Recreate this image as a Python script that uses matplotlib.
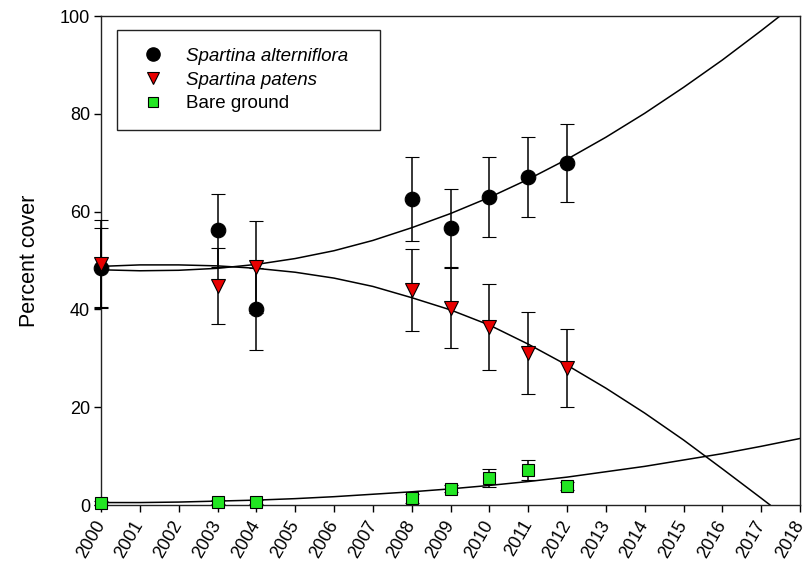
import matplotlib
matplotlib.use("Agg")
import matplotlib.pyplot as plt
from matplotlib.lines import Line2D

plt.rcParams['font.family'] = ['Liberation Sans', 'DejaVu Sans']

# ---- data ----
years = [2000, 2003, 2004, 2008, 2009, 2010, 2011, 2012]
alt_mean = [48.5, 56.2, 40.0, 62.5, 56.6, 63.0, 67.1, 69.9]
alt_err = [8.1, 7.5, 8.4, 8.6, 8.0, 8.2, 8.2, 8.0]
pat_mean = [49.2, 44.8, 48.7, 44.0, 40.3, 36.4, 31.1, 28.0]
pat_err = [9.0, 7.8, 9.4, 8.4, 8.2, 8.8, 8.4, 7.9]
bare_mean = [0.5, 0.6, 0.6, 1.4, 3.3, 5.5, 7.2, 3.9]
bare_err = [0.4, 0.4, 0.4, 0.9, 0.7, 1.8, 2.1, 0.8]

# fitted trend curves
alt_fit_years = [2000, 2001, 2002, 2003, 2004, 2005, 2006, 2007, 2008, 2009,
                 2010, 2011, 2012, 2013, 2014, 2015, 2016, 2017, 2017.5]
alt_fit = [48.1, 47.9, 48.0, 48.4, 49.2, 50.4, 52.0, 54.1, 56.7, 59.6,
           62.9, 66.6, 70.7, 75.2, 80.1, 85.4, 91.0, 97.0, 100.1]
pat_fit_years = [2000, 2001, 2002, 2003, 2004, 2005, 2006, 2007, 2008, 2009,
                 2010, 2011, 2012, 2013, 2014, 2015, 2016, 2017, 2017.23]
pat_fit = [48.8, 49.1, 49.1, 48.9, 48.4, 47.6, 46.4, 44.7, 42.4, 39.9,
           36.8, 32.9, 28.6, 23.9, 18.8, 13.3, 7.4, 1.4, 0.0]
bare_fit_years = [2000, 2001, 2002, 2003, 2004, 2005, 2006, 2007, 2008, 2009,
                  2010, 2011, 2012, 2013, 2014, 2015, 2016, 2017, 2018]
bare_fit = [0.5, 0.5, 0.6, 0.8, 1.0, 1.3, 1.7, 2.2, 2.7, 3.3,
            4.0, 4.8, 5.7, 6.8, 7.9, 9.2, 10.5, 12.0, 13.6]

x_ticks = list(range(2000, 2019))
y_ticks = [0, 20, 40, 60, 80, 100]
labels = ["Spartina alterniflora", "Spartina patens", "Bare ground"]

RED = '#E80000'
GREEN = '#22E622'

fig = plt.figure(figsize=(8.09, 5.64), dpi=100)
ax = fig.add_axes([101 / 809, 1 - 505 / 564, 699 / 809, 489 / 564])

ax.plot(alt_fit_years, alt_fit, color='black', lw=1.1, zorder=2)
ax.plot(pat_fit_years, pat_fit, color='black', lw=1.1, zorder=2)
ax.plot(bare_fit_years, bare_fit, color='black', lw=1.1, zorder=2)

ekw = dict(ecolor='black', elinewidth=1.1, capsize=5.0, capthick=1.1,
           linestyle='none', markeredgecolor='black', markeredgewidth=0.8,
           clip_on=False, zorder=3)
ax.errorbar(years, alt_mean, yerr=alt_err, fmt='o', color='black',
            markersize=10.5, **ekw)
ax.errorbar(years, pat_mean, yerr=pat_err, fmt='v', color=RED,
            markerfacecolor=RED, markersize=9.5, **ekw)
ax.errorbar(years, bare_mean, yerr=bare_err, fmt='s', color=GREEN,
            markerfacecolor=GREEN, markersize=8, **ekw)

ax.set_xlim(2000, 2018)
ax.set_ylim(0, 100)
ax.set_xticks(x_ticks)
ax.set_xticklabels([str(v) for v in x_ticks], rotation=60, ha='right',
                   va='center', rotation_mode='anchor', fontsize=13)
ax.set_yticks(y_ticks)
ax.set_yticklabels([str(v) for v in y_ticks], fontsize=13)
ax.tick_params(axis='both', direction='out', length=5, width=1.0,
               colors='black')
ax.tick_params(axis='x', pad=7)
ax.tick_params(axis='y', pad=3)
for s in ax.spines.values():
    s.set_linewidth(1.0)
    s.set_color('#222222')

ax.set_ylabel("Percent cover", fontsize=15.5, labelpad=14)

handles = [
    Line2D([], [], marker='o', linestyle='none', color='black',
           markeredgecolor='black', markersize=9.5),
    Line2D([], [], marker='v', linestyle='none', color=RED,
           markeredgecolor='black', markeredgewidth=0.8, markersize=9),
    Line2D([], [], marker='s', linestyle='none', color=GREEN,
           markeredgecolor='black', markeredgewidth=0.8, markersize=7),
]
x0 = (117 - 101) / 699
w = (380 - 117) / 699
ytop = (505 - 30) / 489
leg = ax.legend(handles, labels, loc='upper left',
                bbox_to_anchor=(x0, ytop - 0.3, w, 0.3), mode='expand',
                fontsize=13.5, frameon=True, fancybox=False,
                edgecolor='#222222', framealpha=1, borderpad=0.95,
                labelspacing=0.35, handletextpad=0.85, handlelength=1.9,
                borderaxespad=0)
leg.get_frame().set_linewidth(1.0)
for t in leg.get_texts()[:2]:
    t.set_fontstyle('italic')

fig.savefig("out.png", dpi=100)
